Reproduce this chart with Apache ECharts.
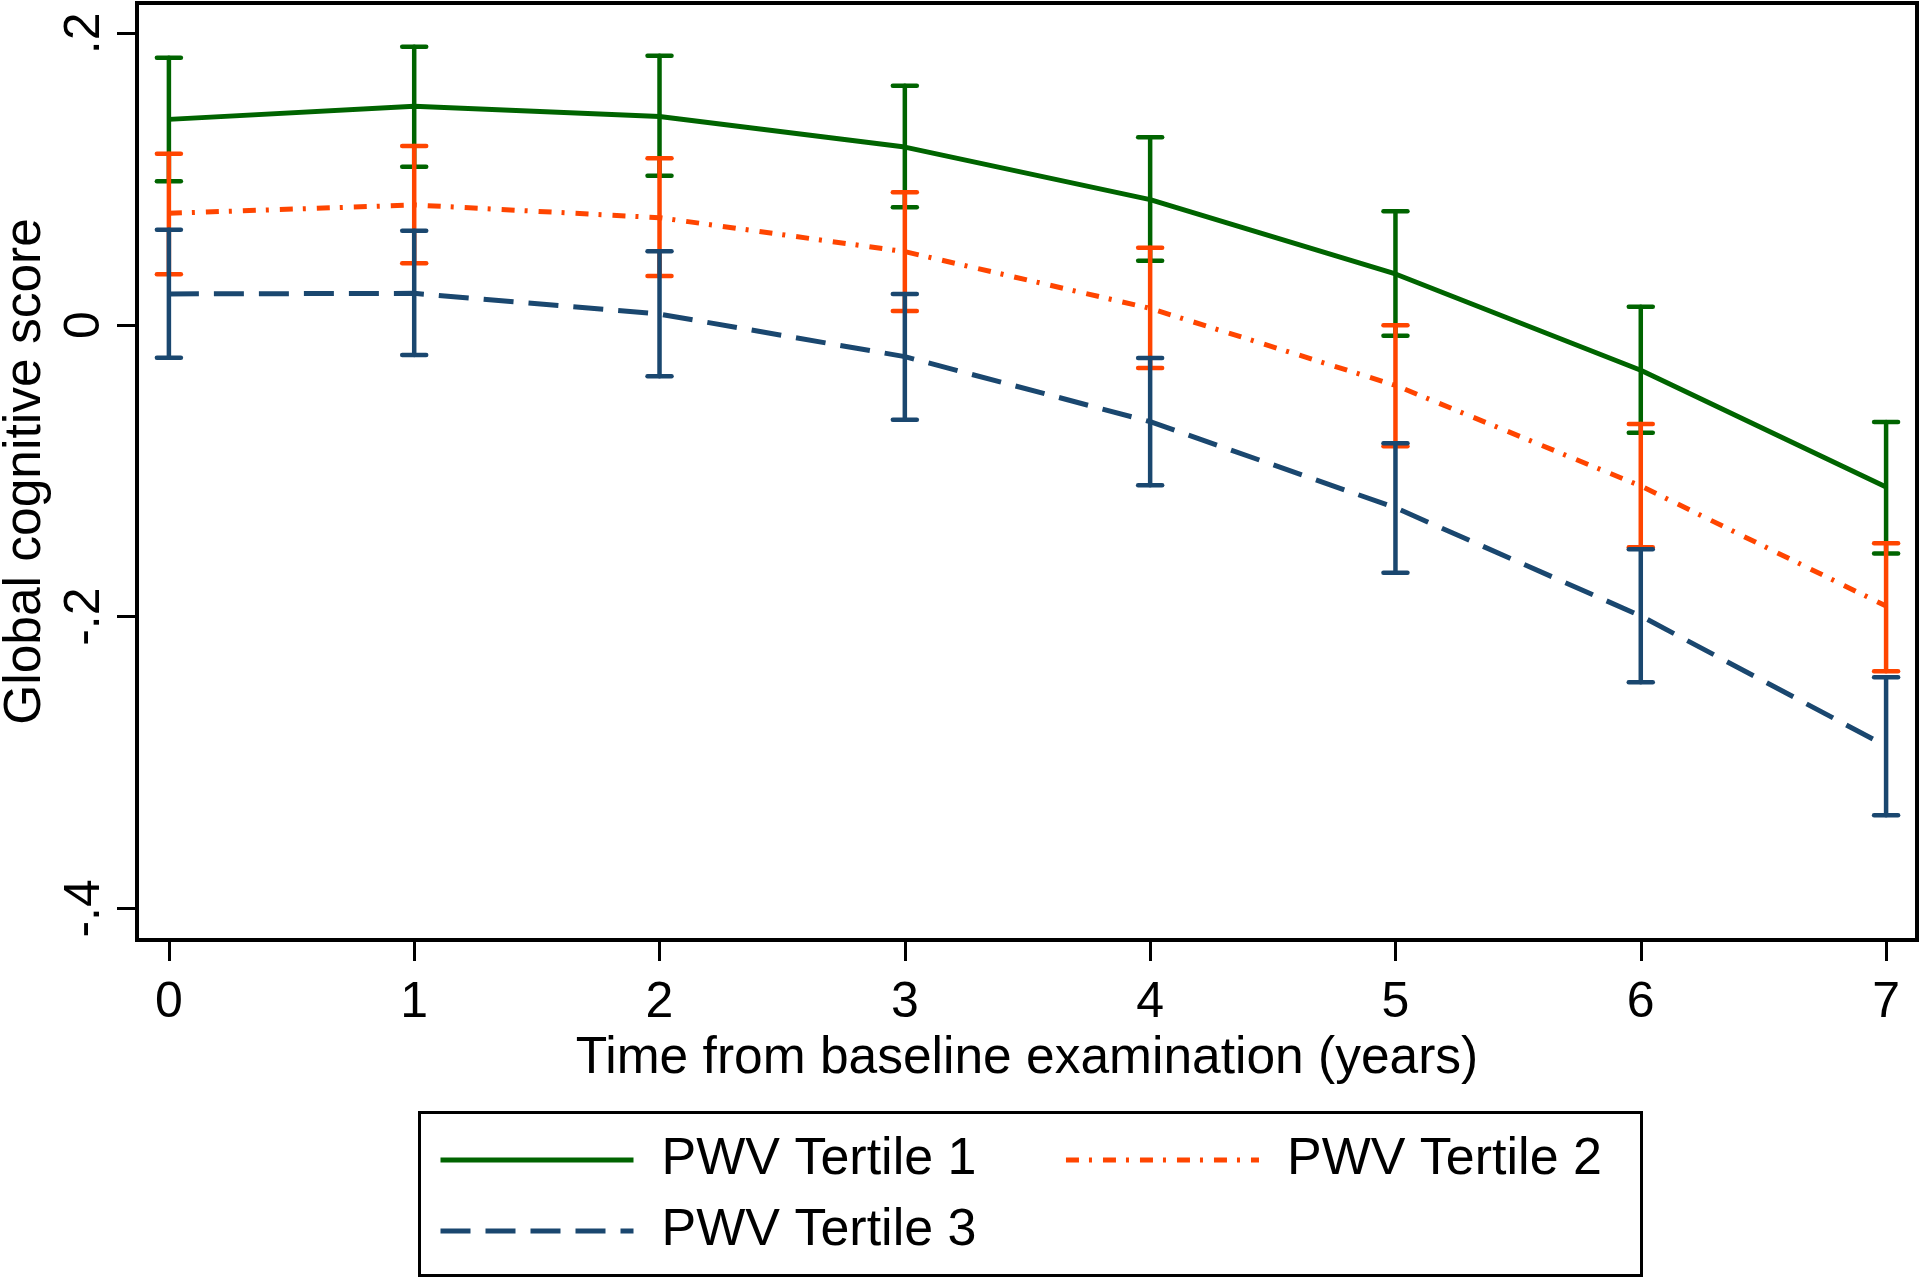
<!DOCTYPE html>
<html>
<head>
<meta charset="utf-8">
<script src="https://cdn.jsdelivr.net/npm/echarts@6/dist/echarts.min.js"></script>
<style>
  html, body { margin: 0; padding: 0; background: #fff; }
  #chart { width: 1920px; height: 1277px; }
</style>
</head>
<body>
<div id="chart"></div>
<script>
const years = [0, 1, 2, 3, 4, 5, 6, 7];
const xTicks = [0, 1, 2, 3, 4, 5, 6, 7];
const yTicks = [-0.4, -0.2, 0, 0.2];
const yTickLabels = { '-0.4': '-.4', '-0.2': '-.2', '0': '0', '0.2': '.2' };

const t1Mean = [0.141, 0.150, 0.143, 0.122, 0.086, 0.035, -0.031, -0.111];
const t1Low  = [0.0985, 0.1086, 0.1024, 0.0807, 0.0441, -0.0073, -0.0738, -0.1566];
const t1High = [0.1833, 0.1908, 0.1847, 0.1641, 0.1287, 0.0780, 0.0126, -0.0665];

const t2Mean = [0.0766, 0.0823, 0.0736, 0.0503, 0.0114, -0.0414, -0.1104, -0.1927];
const t2Low  = [0.0348, 0.0423, 0.0336, 0.0096, -0.0295, -0.0832, -0.1524, -0.2375];
const t2High = [0.1175, 0.1227, 0.1143, 0.0910, 0.0530, -0.0002, -0.0679, -0.1497];

const t3Mean = [0.0213, 0.0217, 0.0075, -0.0217, -0.0663, -0.1253, -0.1995, -0.2887];
const t3Low  = [-0.0224, -0.0206, -0.0352, -0.0649, -0.1099, -0.1699, -0.2450, -0.3362];
const t3High = [0.0654, 0.0647, 0.0505, 0.0213, -0.0226, -0.0811, -0.1538, -0.2416];

const names = ['PWV Tertile 1', 'PWV Tertile 2', 'PWV Tertile 3'];
const colors = ['#006400', '#ff4500', '#1a476f'];
const dashes = [null, [13, 10, 3, 11], [30, 15]];

const FONT = '"Liberation Sans", Arial, Helvetica, sans-serif';

function pairs(xs, ys) { return xs.map((x, i) => [x, ys[i]]); }
function bars(xs, lo, hi) { return xs.map((x, i) => [x, lo[i], hi[i]]); }

function errRender(color) {
  return function (params, api) {
    const x = api.value(0);
    const pLo = api.coord([x, api.value(1)]);
    const pHi = api.coord([x, api.value(2)]);
    const hw = 12;
    const st = { stroke: color, lineWidth: 4.5, lineCap: 'round' };
    return {
      type: 'group',
      children: [
        { type: 'line', shape: { x1: pLo[0], y1: pLo[1], x2: pHi[0], y2: pHi[1] }, style: st },
        { type: 'line', shape: { x1: pHi[0] - hw, y1: pHi[1], x2: pHi[0] + hw, y2: pHi[1] }, style: st },
        { type: 'line', shape: { x1: pLo[0] - hw, y1: pLo[1], x2: pLo[0] + hw, y2: pLo[1] }, style: st }
      ]
    };
  };
}

const means = [t1Mean, t2Mean, t3Mean];
const lows = [t1Low, t2Low, t3Low];
const highs = [t1High, t2High, t3High];

const series = [];
for (let k = 0; k < 3; k++) {
  series.push({
    name: names[k],
    type: 'line',
    data: pairs(years, means[k]),
    symbol: 'none',
    showSymbol: false,
    color: colors[k],
    lineStyle: { color: colors[k], width: 5, type: dashes[k] || 'solid' },
    z: 2 + k * 2
  });
  series.push({
    name: 'ci' + (k + 1),
    type: 'custom',
    data: bars(years, lows[k], highs[k]),
    renderItem: errRender(colors[k]),
    encode: { x: 0, y: [1, 2] },
    z: 3 + k * 2
  });
}

const legendCommon = {
  orient: 'horizontal',
  padding: 0,
  itemWidth: 193, itemHeight: 14,
  itemStyle: { opacity: 0, borderWidth: 0 },
  lineStyle: { width: 5 },
  textStyle: { fontSize: 52, color: '#000', fontFamily: FONT, padding: [0, 0, 0, 23] },
  selectedMode: false
};

const chart = echarts.init(document.getElementById('chart'), null, { renderer: 'canvas' });
chart.setOption({
  animation: false,
  backgroundColor: '#ffffff',
  textStyle: { fontFamily: FONT, color: '#000' },
  grid: {
    left: 137, right: 3, top: 3, bottom: 337,
    containLabel: false,
    outerBoundsMode: 'none',
    show: true, borderColor: '#000', borderWidth: 4, backgroundColor: '#fff'
  },
  xAxis: {
    type: 'value',
    min: -0.13, max: 7.126,
    name: 'Time from baseline examination (years)',
    nameLocation: 'middle',
    nameGap: 78,
    nameTextStyle: { fontSize: 51.5, color: '#000', fontFamily: FONT },
    axisLine: { show: true, onZero: false, lineStyle: { color: '#000', width: 4 } },
    axisTick: { show: true, length: 21, lineStyle: { color: '#000', width: 3 }, customValues: xTicks },
    axisLabel: { fontSize: 50, color: '#000', fontFamily: FONT, margin: 38, customValues: xTicks, formatter: v => String(v) },
    splitLine: { show: false }
  },
  yAxis: {
    type: 'value',
    min: -0.4217, max: 0.2208,
    name: 'Global cognitive score',
    nameLocation: 'middle',
    nameGap: 72,
    nameRotate: 90,
    nameTextStyle: { fontSize: 51.5, color: '#000', fontFamily: FONT },
    axisLine: { show: true, onZero: false, lineStyle: { color: '#000', width: 4 } },
    axisTick: { show: true, length: 20, lineStyle: { color: '#000', width: 3 }, customValues: yTicks },
    axisLabel: {
      fontSize: 50, color: '#000', fontFamily: FONT, rotate: 90, margin: 27,
      customValues: yTicks,
      formatter: v => {
        const key = String(Math.round(v * 10) / 10);
        return yTickLabels[key] !== undefined ? yTickLabels[key] : key;
      }
    },
    splitLine: { show: false }
  },
  legend: [
    Object.assign({}, legendCommon, { data: [names[0], names[1]], left: 438, top: 1134, itemGap: 87 }),
    Object.assign({}, legendCommon, { data: [names[2]], left: 438, top: 1205 })
  ],
  graphic: [
    {
      type: 'rect',
      left: 417, top: 1110,
      shape: { width: 1222, height: 163 },
      style: { fill: 'none', stroke: '#000', lineWidth: 3 },
      silent: true
    }
  ],
  series: series
});
</script>
</body>
</html>
